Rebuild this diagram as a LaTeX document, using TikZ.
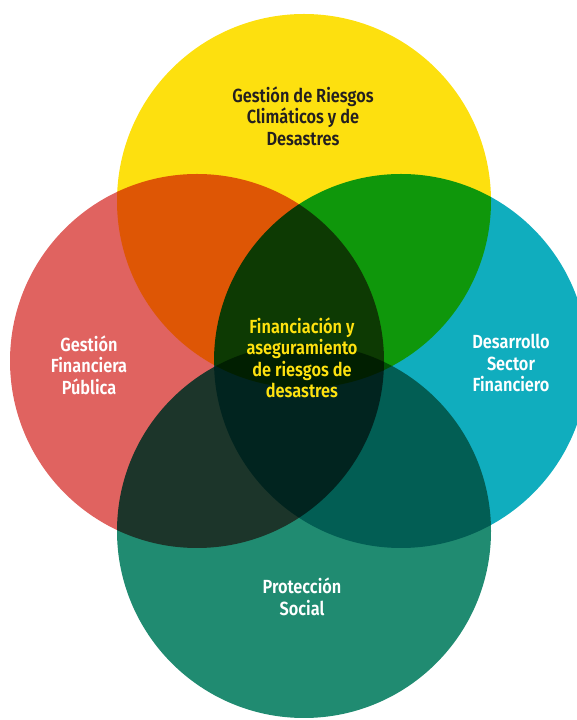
\documentclass[tikz,border=0pt]{standalone}
\usepackage{fontspec}
\setmainfont{Fira Sans}[UprightFont=* SemiBold, FakeStretch=0.86]
\definecolor{amarillo}{HTML}{FDE00F}
\definecolor{rojo}{HTML}{E06360}
\definecolor{turquesa}{HTML}{10ADBE}
\definecolor{verde}{HTML}{208B71}
\definecolor{textoamarillo}{HTML}{FFE20F}
\definecolor{textooscuro}{HTML}{231F20}
\begin{document}
\begin{tikzpicture}[x=1pt, y=1pt,
		circulo/.style={circle, minimum size=374pt, inner sep=0pt, outer sep=0pt},
		rotulo/.style={align=center, font=\fontsize{19}{21.5}\selectfont, text=white}]
		\useasboundingbox ( 0, 0 ) rectangle ( 577, 720 );

		% circulos (se multiplican los colores donde se cruzan)
		\begin{scope}[blend group=multiply]
			\node [circulo, fill=amarillo] (riesgos) at ( 304, 519 ) {};
			\node [circulo, fill=rojo] (publica) at ( 197, 359 ) {};
			\node [circulo, fill=turquesa] (sector) at ( 401, 359 ) {};
			\node [circulo, fill=verde] (social) at ( 304, 189 ) {};
		\end{scope}

		% textos
		\node [rotulo, text=textooscuro] (t-riesgos) at ( 303, 604 ) {Gestión de Riesgos\\Climáticos y de\\Desastres};
		\node [rotulo] (t-publica) at ( 89, 355 ) {Gestión\\Financiera\\Pública};
		\node [rotulo] (t-sector) at ( 511, 357 ) {Desarrollo\\Sector\\Financiero};
		\node [rotulo] (t-social) at ( 302, 123 ) {Protección\\Social};
		\node [rotulo, text=textoamarillo] (t-centro) at ( 302, 362 ) {Financiación y\\aseguramiento\\de riesgos de\\desastres};
	\end{tikzpicture}
\end{document}
